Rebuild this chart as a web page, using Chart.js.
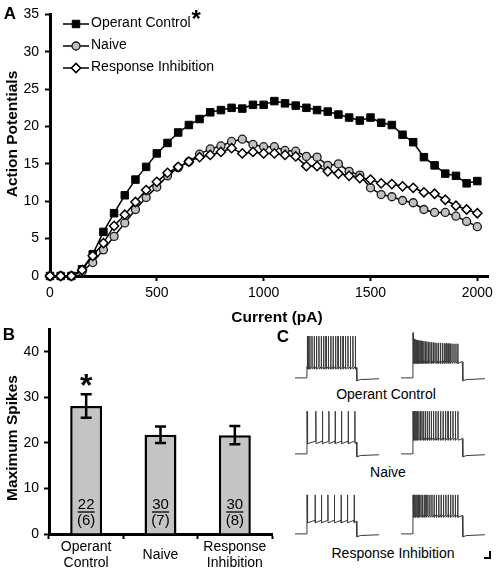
<!DOCTYPE html>
<html>
<head>
<meta charset="utf-8">
<script src="https://cdn.jsdelivr.net/npm/chart.js@4.4.0/dist/chart.umd.min.js"></script>
<style>
  html, body { margin: 0; padding: 0; background: #fff; }
  #fig { position: relative; width: 498px; height: 573px; overflow: hidden; background: #fff;
         font-family: "Liberation Sans", Arial, sans-serif; color: #000; }
  #fig canvas { position: absolute; }
  .lbl { position: absolute; transform: translate(-50%, -50%); white-space: nowrap; line-height: 1; }
  .panel { font-weight: bold; font-size: 17px; }
  .title { font-weight: bold; font-size: 15.5px; }
  .vert { transform: translate(-50%, -50%) rotate(-90deg); }
  .cap { font-size: 14px; }
  #scalebar { position: absolute; left: 484px; top: 551px; width: 5px; height: 6px;
              border-right: 2px solid #000; border-bottom: 2px solid #000; }
</style>
</head>
<body>
<div id="fig">
  <canvas id="chartA" width="498" height="325" style="left:0;top:0"></canvas>
  <canvas id="chartB" width="282" height="258" style="left:0;top:315px"></canvas>
  <canvas id="trOcLow" width="84" height="52" style="left:295px;top:331px"></canvas>
  <canvas id="trOcHigh" width="84" height="52" style="left:401px;top:331px"></canvas>
  <canvas id="trNvLow" width="84" height="52" style="left:295px;top:407px"></canvas>
  <canvas id="trNvHigh" width="84" height="52" style="left:401px;top:407px"></canvas>
  <canvas id="trRiLow" width="84" height="52" style="left:295px;top:487px"></canvas>
  <canvas id="trRiHigh" width="84" height="52" style="left:401px;top:487px"></canvas>

  <div class="lbl panel" style="left:10px;top:13px">A</div>
  <div class="lbl panel" style="left:9px;top:334px">B</div>
  <div class="lbl panel" style="left:283px;top:336px">C</div>
  <div class="lbl title vert" style="left:11.5px;top:133.5px">Action Potentials</div>
  <div class="lbl title" style="left:277px;top:317px">Current (pA)</div>
  <div class="lbl title vert" style="left:11.5px;top:438px">Maximum Spikes</div>
  <div class="lbl cap" style="left:386px;top:394px">Operant Control</div>
  <div class="lbl cap" style="left:388px;top:472px">Naive</div>
  <div class="lbl cap" style="left:393px;top:553px">Response Inhibition</div>
  <div id="scalebar"></div>
</div>

<script>
const FONT = '"Liberation Sans", Arial, sans-serif';
Chart.defaults.font.family = FONT;
Chart.defaults.color = '#000';

// --- panel A: firing vs injected current ---
const currentPA = [0, 50, 100, 150, 200, 250, 300, 350, 400, 450, 500, 550, 600, 650, 700, 750, 800, 850, 900, 950,
  1000, 1050, 1100, 1150, 1200, 1250, 1300, 1350, 1400, 1450, 1500, 1550, 1600, 1650, 1700, 1750, 1800, 1850, 1900, 1950, 2000];
const operantControl = [0, 0, 0, 0.9, 2.9, 5.9, 8.4, 10.8, 12.9, 14.6, 16.4, 17.8, 19.2, 20.2, 21.0, 21.9, 22.2, 22.5, 22.4, 22.9,
  22.9, 23.4, 23.1, 22.8, 22.5, 22.2, 22.0, 21.6, 21.2, 20.8, 21.2, 20.5, 20.2, 18.9, 17.9, 15.9, 14.8, 13.7, 13.4, 12.4, 12.7];
const naive = [0, 0, 0, 0.6, 1.8, 3.5, 5.3, 7.1, 8.9, 10.5, 11.9, 13.4, 14.5, 15.3, 16.3, 17.0, 17.4, 18.0, 18.3, 17.6,
  17.3, 17.3, 16.8, 16.7, 16.0, 15.9, 14.8, 15.0, 14.0, 13.5, 11.8, 10.9, 10.6, 10.1, 9.8, 8.9, 8.5, 8.5, 8.0, 7.3, 6.6];
const responseInhibition = [0, 0, 0, 0.8, 2.7, 4.4, 6.7, 8.2, 9.9, 11.5, 12.6, 13.8, 14.6, 15.3, 15.9, 16.2, 16.6, 17.1, 16.4, 16.6,
  16.4, 16.4, 16.2, 16.0, 14.7, 14.7, 14.0, 13.7, 13.4, 13.1, 12.9, 12.4, 12.3, 12.0, 11.8, 11.2, 11.0, 10.2, 9.4, 8.9, 8.4];
const currentTicks = [0, 500, 1000, 1500, 2000];
const apTicks = [0, 5, 10, 15, 20, 25, 30, 35];

// --- panel B: maximum spikes ---
const groupLabels = [['Operant', 'Control'], 'Naive', ['Response', 'Inhibition']];
const maxSpikes = [28.1, 21.8, 21.7];
const maxSpikesSem = [2.6, 1.8, 2.0];
const cellCounts = [22, 30, 30];
const animalCounts = [6, 7, 8];
const sigMarks = ['*', '', ''];
const spikeTicks = [0, 10, 20, 30, 40];

// --- panel C: example traces (spike times in ms after step onset, levels in mV) ---
const ocLowSpikes = [3, 12, 30, 52, 75, 98, 122, 146, 170, 194, 218, 242, 266, 291, 316, 341, 366, 391, 416, 441, 466, 491];
const ocHighSpikes = [2, 7, 13, 20, 28, 37, 47, 58, 70, 83, 97, 111, 126, 141, 157, 173, 190, 207, 224, 242,
  260, 279, 298, 317, 336, 356, 376, 396, 416, 436, 455];
const ocHighPeaks = [36, 24, 22, 21, 20, 19, 18.5, 18, 17.5, 17, 16.5, 16, 15.5, 15, 14.5, 14, 13.5, 13, 12.5, 12,
  12, 11.5, 11.5, 11, 11, 10.5, 10.5, 10, 10, 10, 10];
const nvLowSpikes = [2, 8, 91, 158, 223, 287, 351, 419, 486];
const nvHighSpikes = [2, 7, 14, 23, 34, 47, 61, 76, 92, 109, 127, 146, 166, 187, 209, 232, 256, 281, 306, 331, 356, 381, 406, 431, 456];
const riLowSpikes = [2, 8, 84, 148, 213, 279, 347, 411, 479];
const riHighSpikes = [2, 7, 13, 21, 30, 41, 53, 67, 82, 98, 115, 133, 152, 172, 193, 215, 238, 262, 286, 310, 334, 358, 382, 406, 430, 454];
const tracePeaks = { ocLow: 28, ocHigh: ocHighPeaks, nvLow: 30, nvHigh: 30, riLow: 21.5, riHigh: 21.5 };
const traceTroughs = { ocLow: -47.5, ocHigh: -34, nvLow: -44, nvHigh: -36, riLow: -42, riHigh: -29 };
const restMv = -70;
const stepMs = 500;

const xy = (ys) => ys.map((v, i) => ({ x: currentPA[i], y: v }));
const plainTick = (v) => String(v);

const legendPlugin = {
  id: 'insetLegend',
  afterDraw(chart) {
    const ctx = chart.ctx;
    ctx.save();
    chart.data.datasets.forEach((ds, i) => {
      const y = 24 + i * 22;
      ctx.strokeStyle = ds.borderColor;
      ctx.lineWidth = ds.borderWidth;
      ctx.beginPath(); ctx.moveTo(63, y); ctx.lineTo(89, y); ctx.stroke();
      ctx.fillStyle = ds.pointBackgroundColor;
      ctx.strokeStyle = ds.pointBorderColor;
      ctx.lineWidth = ds.pointBorderWidth;
      Chart.helpers.drawPoint(ctx, { pointStyle: ds.pointStyle, radius: ds.pointRadius, borderWidth: ds.pointBorderWidth, rotation: 0 }, 76, y);
      ctx.fillStyle = '#000';
      ctx.font = '14px ' + FONT;
      ctx.textAlign = 'left';
      ctx.textBaseline = 'middle';
      ctx.fillText(ds.label, 91, y - 1);
      if (ds.mark) {
        const w = ctx.measureText(ds.label).width;
        ctx.font = 'bold 24px ' + FONT;
        ctx.textBaseline = 'alphabetic';
        ctx.fillText(ds.mark, 91 + w + 1, 27);
      }
    });
    ctx.restore();
  }
};

new Chart(document.getElementById('chartA'), {
  type: 'line',
  data: {
    datasets: [
      { label: 'Operant Control', mark: '*', data: xy(operantControl), order: 2, clip: false,
        borderColor: '#000', borderWidth: 1.5, pointStyle: 'rect', pointRadius: 5.3,
        pointBackgroundColor: '#000', pointBorderColor: '#000', pointBorderWidth: 1 },
      { label: 'Naive', data: xy(naive), order: 1, clip: false,
        borderColor: '#000', borderWidth: 1.5, pointStyle: 'circle', pointRadius: 4,
        pointBackgroundColor: '#c0c0c0', pointBorderColor: '#1a1a1a', pointBorderWidth: 1.3 },
      { label: 'Response Inhibition', data: xy(responseInhibition), order: 0, clip: false,
        borderColor: '#000', borderWidth: 1.5, pointStyle: 'rectRot', pointRadius: 4.6,
        pointBackgroundColor: '#fff', pointBorderColor: '#000', pointBorderWidth: 1.5 }
    ]
  },
  options: {
    responsive: false, animation: false, devicePixelRatio: 1, events: [],
    layout: { padding: { left: 0, right: 10, top: 11, bottom: 0 } },
    plugins: { legend: { display: false }, tooltip: { enabled: false } },
    scales: {
      x: {
        type: 'linear', min: 0, max: 2050,
        afterBuildTicks: (s) => { s.ticks = currentTicks.map(v => ({ value: v })); },
        afterFit: (s) => { s.height = 49; },
        grid: { drawOnChartArea: false, drawTicks: true, tickLength: 5, tickColor: '#000', tickWidth: 2 },
        border: { color: '#000', width: 3 },
        ticks: { color: '#000', font: { size: 14 }, padding: 4, maxRotation: 0, callback: plainTick }
      },
      y: {
        min: 0, max: 35,
        afterBuildTicks: (s) => { s.ticks = apTicks.map(v => ({ value: v })); },
        afterFit: (s) => { s.width = 50; },
        grid: { drawOnChartArea: false, drawTicks: true, tickLength: 5, tickColor: '#000', tickWidth: 2 },
        border: { color: '#000', width: 3 },
        ticks: { color: '#000', font: { size: 14 }, padding: 6, callback: plainTick }
      }
    }
  },
  plugins: [legendPlugin]
});

const barExtrasPlugin = {
  id: 'barExtras',
  afterDatasetsDraw(chart) {
    const ctx = chart.ctx;
    const ys = chart.scales.y;
    const base = ys.getPixelForValue(0);
    ctx.save();
    chart.getDatasetMeta(0).data.forEach((bar, i) => {
      const top = ys.getPixelForValue(maxSpikes[i] + maxSpikesSem[i]);
      const bot = ys.getPixelForValue(maxSpikes[i] - maxSpikesSem[i]);
      ctx.strokeStyle = '#000';
      ctx.lineWidth = 2.5;
      ctx.beginPath();
      ctx.moveTo(bar.x, top); ctx.lineTo(bar.x, bot);
      ctx.moveTo(bar.x - 5.5, top); ctx.lineTo(bar.x + 5.5, top);
      ctx.moveTo(bar.x - 5.5, bot); ctx.lineTo(bar.x + 5.5, bot);
      ctx.stroke();

      ctx.fillStyle = '#000';
      ctx.textAlign = 'center';
      ctx.textBaseline = 'middle';
      ctx.font = '15px ' + FONT;
      ctx.fillText(String(cellCounts[i]), bar.x, base - 29.5);
      ctx.lineWidth = 1.3;
      ctx.beginPath();
      ctx.moveTo(bar.x - 8.5, base - 22); ctx.lineTo(bar.x + 8.5, base - 22);
      ctx.stroke();
      ctx.fillText('(' + animalCounts[i] + ')', bar.x, base - 13.5);

      if (sigMarks[i]) {
        ctx.font = 'bold 32px ' + FONT;
        ctx.textBaseline = 'alphabetic';
        ctx.fillText(sigMarks[i], bar.x, top + 2);
      }
    });
    ctx.restore();
  }
};

new Chart(document.getElementById('chartB'), {
  type: 'bar',
  data: {
    labels: groupLabels,
    datasets: [{ data: maxSpikes, backgroundColor: '#c4c4c4', borderColor: '#000', borderWidth: 2.5,
      categoryPercentage: 1, barPercentage: 0.43 }]
  },
  options: {
    responsive: false, animation: false, devicePixelRatio: 1, events: [],
    layout: { padding: { left: 0, right: 10, top: 14, bottom: 0 } },
    plugins: { legend: { display: false }, tooltip: { enabled: false } },
    scales: {
      x: {
        afterFit: (s) => { s.height = 39; },
        grid: { offset: true, drawOnChartArea: false, drawTicks: true, tickLength: 5, tickColor: '#000', tickWidth: 2 },
        border: { color: '#000', width: 3 },
        ticks: { color: '#000', font: { size: 14, lineHeight: 16 / 14 }, padding: 8, crossAlign: 'center', maxRotation: 0, autoSkip: false }
      },
      y: {
        min: 0, max: 45,
        afterBuildTicks: (s) => { s.ticks = spikeTicks.map(v => ({ value: v })); },
        afterFit: (s) => { s.width = 49; },
        grid: { drawOnChartArea: false, drawTicks: true, tickLength: 5, tickColor: '#000', tickWidth: 2 },
        border: { color: '#000', width: 3 },
        ticks: { color: '#000', font: { size: 14 }, padding: 5, callback: plainTick }
      }
    }
  },
  plugins: [barExtrasPlugin]
});

function buildTrace(spikes, peaks, trough) {
  const pts = [{ x: -120, y: restMv }, { x: 0, y: restMv }];
  spikes.forEach((t, i) => {
    const pk = Array.isArray(peaks) ? peaks[i] : peaks;
    pts.push({ x: t - 1, y: trough + 4 }, { x: t, y: pk }, { x: t + 1.5, y: trough - 2 });
  });
  pts.push({ x: stepMs, y: trough + 2 }, { x: stepMs + 6, y: restMv - 7 }, { x: stepMs + 40, y: restMv - 4 }, { x: 730, y: restMv - 2 });
  return pts;
}

function traceChart(id, pts) {
  new Chart(document.getElementById(id), {
    type: 'scatter',
    data: { datasets: [{ data: pts, showLine: true, borderColor: '#3a3a3a', borderWidth: 1, pointRadius: 0, tension: 0 }] },
    options: {
      responsive: false, animation: false, devicePixelRatio: 1, events: [],
      layout: { padding: 0 },
      plugins: { legend: { display: false }, tooltip: { enabled: false } },
      scales: {
        x: { type: 'linear', display: false, min: -120, max: 730 },
        y: { display: false, min: -82, max: 40 }
      }
    }
  });
}

traceChart('trOcLow', buildTrace(ocLowSpikes, tracePeaks.ocLow, traceTroughs.ocLow));
traceChart('trOcHigh', buildTrace(ocHighSpikes, tracePeaks.ocHigh, traceTroughs.ocHigh));
traceChart('trNvLow', buildTrace(nvLowSpikes, tracePeaks.nvLow, traceTroughs.nvLow));
traceChart('trNvHigh', buildTrace(nvHighSpikes, tracePeaks.nvHigh, traceTroughs.nvHigh));
traceChart('trRiLow', buildTrace(riLowSpikes, tracePeaks.riLow, traceTroughs.riLow));
traceChart('trRiHigh', buildTrace(riHighSpikes, tracePeaks.riHigh, traceTroughs.riHigh));
</script>
</body>
</html>
